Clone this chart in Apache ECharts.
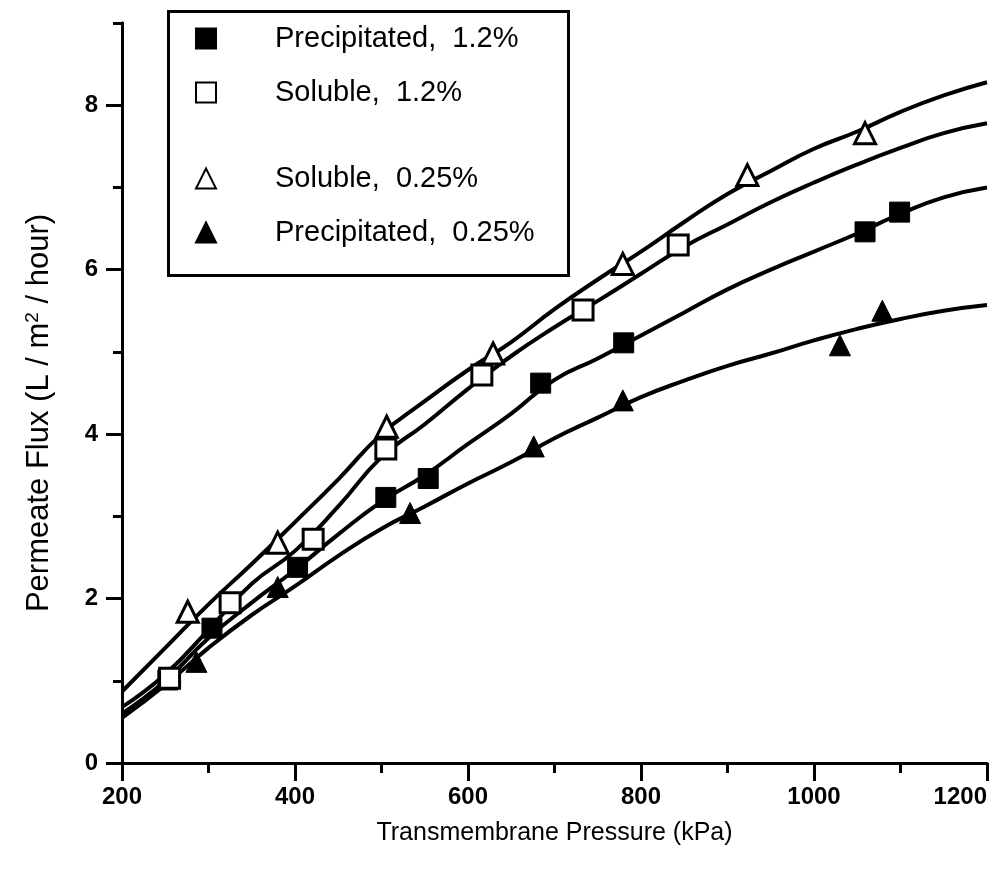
<!DOCTYPE html>
<html>
<head>
<meta charset="utf-8">
<script src="https://cdn.jsdelivr.net/npm/echarts@6/dist/echarts.min.js"></script>
<style>
html,body{margin:0;padding:0;background:#fff;}
#chart{width:1003px;height:879px;}
</style>
</head>
<body>
<div id="chart"></div>
<script>
// Pressure grid for the fitted curves (kPa)
const curveX = [200,250,300,350,400,450,500,550,600,650,700,750,800,850,900,950,1000,1050,1100,1150,1200];
// Fitted curves (L / m2 / hour)
const curveSol025 = [0.87,1.40,1.93,2.42,2.93,3.45,4.00,4.40,4.78,5.12,5.52,5.88,6.22,6.58,6.92,7.20,7.47,7.68,7.92,8.12,8.28];
const curveSol12  = [0.68,1.08,1.62,2.18,2.58,3.12,3.72,4.12,4.55,4.95,5.30,5.62,5.95,6.28,6.55,6.82,7.06,7.28,7.48,7.66,7.78];
const curvePre12  = [0.60,1.00,1.52,1.95,2.35,2.78,3.18,3.50,3.88,4.25,4.66,4.92,5.20,5.48,5.76,6.00,6.22,6.44,6.68,6.88,7.00];
const curvePre025 = [0.55,0.95,1.40,1.80,2.15,2.52,2.85,3.12,3.40,3.66,3.95,4.20,4.45,4.65,4.83,4.98,5.14,5.28,5.40,5.50,5.57];

// Measured points [pressure kPa, flux]
const ptsPre12  = [[253,1.01],[304,1.64],[403,2.38],[505,3.23],[554,3.46],[684,4.62],[780,5.11],[1059,6.46],[1099,6.70]];
const ptsSol12  = [[255,1.03],[325,1.95],[421,2.72],[505,3.82],[616,4.72],[733,5.51],[843,6.30]];
const ptsSol025 = [[276,1.84],[380,2.68],[506,4.09],[629,4.98],[779,6.07],[923,7.15],[1059,7.66]];
const ptsPre025 = [[286,1.23],[380,2.14],[533,3.04],[676,3.85],[779,4.41],[1030,5.08],[1079,5.50]];

const names = ['Precipitated,  1.2%','Soluble,  1.2%','Soluble,  0.25%','Precipitated,  0.25%'];

const zip = (xs, ys) => xs.map((x,i)=>[x,ys[i]]);
const FONT = '"Liberation Sans", Arial, Helvetica, sans-serif';

const lineSeries = (id, ys) => ({
  type:'line', name:id, data: zip(curveX, ys), smooth:true, showSymbol:false,
  lineStyle:{color:'#000', width:4}, z:2, silent:true, animation:false
});
const scatterSeries = (name, data, symbol, filled) => ({
  type:'scatter', name, data, symbol, symbolSize: symbol==='rect'?20:21,
  itemStyle:{color: filled?'#000':'#fff', borderColor:'#000', borderWidth: filled?1:3, opacity:1},
  z:5, animation:false
});

const chart = echarts.init(document.getElementById('chart'), null, {renderer:'canvas'});
chart.setOption({
  backgroundColor:'#fff',
  animation:false,
  grid:{left:122, right:16, top:23, bottom:116, outerBoundsMode:'none', containLabel:false},
  xAxis:{
    type:'value', min:200, max:1200, interval:200,
    axisLine:{lineStyle:{color:'#000', width:3}},
    axisTick:{length:18, lineStyle:{color:'#000', width:3}},
    minorTick:{show:true, splitNumber:2, length:10, lineStyle:{color:'#000', width:3}},
    splitLine:{show:false},
    axisLabel:{color:'#000', fontFamily:FONT, fontWeight:'bold', fontSize:24, margin:22,
      alignMaxLabel:'right', formatter: v => String(v)},
    name:'Transmembrane Pressure (kPa)', nameLocation:'middle', nameGap:58,
    nameTextStyle:{color:'#000', fontFamily:FONT, fontSize:25}
  },
  yAxis:[{
    type:'value', min:0, max:9, interval:1, position:'left',
    axisLine:{lineStyle:{color:'#000', width:3}},
    axisTick:{length:9, lineStyle:{color:'#000', width:3}},
    splitLine:{show:false},
    axisLabel:{show:false}
  },{
    type:'value', min:0, max:9, interval:2, position:'left',
    axisLine:{lineStyle:{color:'#000', width:3}},
    axisTick:{length:16, lineStyle:{color:'#000', width:3}},
    splitLine:{show:false},
    axisLabel:{color:'#000', fontFamily:FONT, fontWeight:'bold', fontSize:24, margin:24, showMaxLabel:false,
      formatter: v => (v===9 ? '' : String(v))},
    name:'{a|Permeate Flux (L / m}{s|2}{a| / hour)}', nameLocation:'middle', nameGap:66,
    nameTextStyle:{color:'#000', fontFamily:FONT, fontSize:31, padding:[0,40,0,0],
      rich:{a:{fontFamily:FONT, fontSize:31, color:'#000'}, s:{fontFamily:FONT, fontSize:19, color:'#000', padding:[0,0,14,0]}}}
  }],
  legend:[{
    data:[names[0], names[1]], orient:'vertical', left:190, top:19, itemWidth:20, itemHeight:20, itemGap:25,
    textStyle:{color:'#000', fontFamily:FONT, fontSize:29, padding:[0,0,0,54]}, selectedMode:false
  },{
    data:[names[2], names[3]], orient:'vertical', left:190, top:159, itemWidth:20, itemHeight:20, itemGap:25,
    textStyle:{color:'#000', fontFamily:FONT, fontSize:29, padding:[0,0,0,54]}, selectedMode:false
  }],
  graphic:[{
    type:'rect', left:166, top:9, shape:{width:400, height:264},
    style:{fill:'none', stroke:'#000', lineWidth:3}, z:10
  }],
  series:[
    lineSeries('fit-sol-025', curveSol025),
    lineSeries('fit-sol-12', curveSol12),
    lineSeries('fit-pre-12', curvePre12),
    lineSeries('fit-pre-025', curvePre025),
    scatterSeries(names[0], ptsPre12, 'rect', true),
    scatterSeries(names[1], ptsSol12, 'rect', false),
    scatterSeries(names[2], ptsSol025, 'triangle', false),
    scatterSeries(names[3], ptsPre025, 'triangle', true)
  ]
});
</script>
</body>
</html>
